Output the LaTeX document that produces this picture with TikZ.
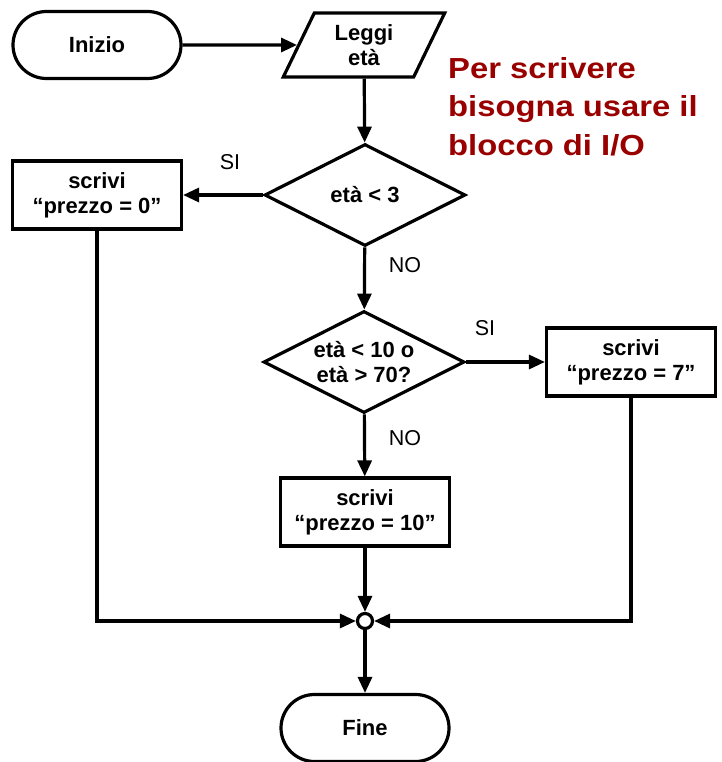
\documentclass[tikz,border=0pt]{standalone}
\usepackage{fontspec}
\setmainfont{Liberation Sans}
\usetikzlibrary{shapes.geometric,shapes.misc,arrows.meta}
\definecolor{notered}{RGB}{153,0,0}

\begin{document}
\begin{tikzpicture}[x=1pt,y=-1pt,
  txt/.style={font=\bfseries\fontsize{22}{25}\selectfont, align=center, inner sep=0pt},
  edgelabel/.style={font=\fontsize{21.5}{24}\selectfont, inner sep=0pt},
  frame/.style={draw, line width=3.2pt, txt},
  term/.style={frame, rounded rectangle, minimum width=168pt, minimum height=67pt},
  io/.style={frame, trapezium, trapezium left angle=66, trapezium right angle=114,
    trapezium stretches=true, minimum width=163pt, minimum height=64pt},
  decision/.style={frame, diamond, aspect=2, minimum width=201pt, minimum height=102pt},
  process/.style={frame, rectangle, minimum width=169pt, minimum height=68pt},
  junction/.style={draw, circle, fill=white, line width=3.2pt, minimum size=15pt, inner sep=0pt},
  flow/.style={line width=3.2pt, -{Triangle[length=16pt,width=14pt]}}
]
\useasboundingbox (0,0) rectangle (721,762);

% blocks
\node[term]     (start)  at (97,45)   {Inizio};
\node[io]       (read)   at (364,45)  {Leggi\\età};
\node[decision] (test1)  at (365,195) {età < 3};
\node[process]  (free)   at (97,195)  {scrivi\\“prezzo = 0”};
\node[decision] (test2)  at (364,362) {età < 10 o\\età > 70?};
\node[process]  (reduced) at (631,362) {scrivi\\“prezzo = 7”};
\node[process]  (full)   at (365,512) {scrivi\\“prezzo = 10”};
\node[junction] (join)   at (365,621) {};
\node[term]     (stop)   at (365,728) {Fine};

% branch labels
\node[edgelabel] (si1) at (230,162) {SI};
\node[edgelabel] (no1) at (405,265) {NO};
\node[edgelabel] (si2) at (485,328) {SI};
\node[edgelabel] (no2) at (405,438) {NO};

% note
\node[anchor=north west, align=left, inner sep=0pt, text=notered,
      font=\bfseries\fontsize{29}{38.5}\selectfont\addfontfeature{FakeStretch=1.13}] (note) at (448,57)
  {Per scrivere\\bisogna usare il\\blocco di I/O};

% connectors
\draw[flow] (start) -- (read);
\draw[flow] (read) -- (test1);
\draw[flow] (test1) -- (free);
\draw[flow] (test1) -- (test2);
\draw[flow] (test2) -- (reduced);
\draw[flow] (test2) -- (full);
\draw[flow] (full) -- (join);
\draw[flow] (free.south) |- (join.west);
\draw[flow] (reduced.south) |- (join.east);
\draw[flow] (join) -- (stop);
\end{tikzpicture}
\end{document}
